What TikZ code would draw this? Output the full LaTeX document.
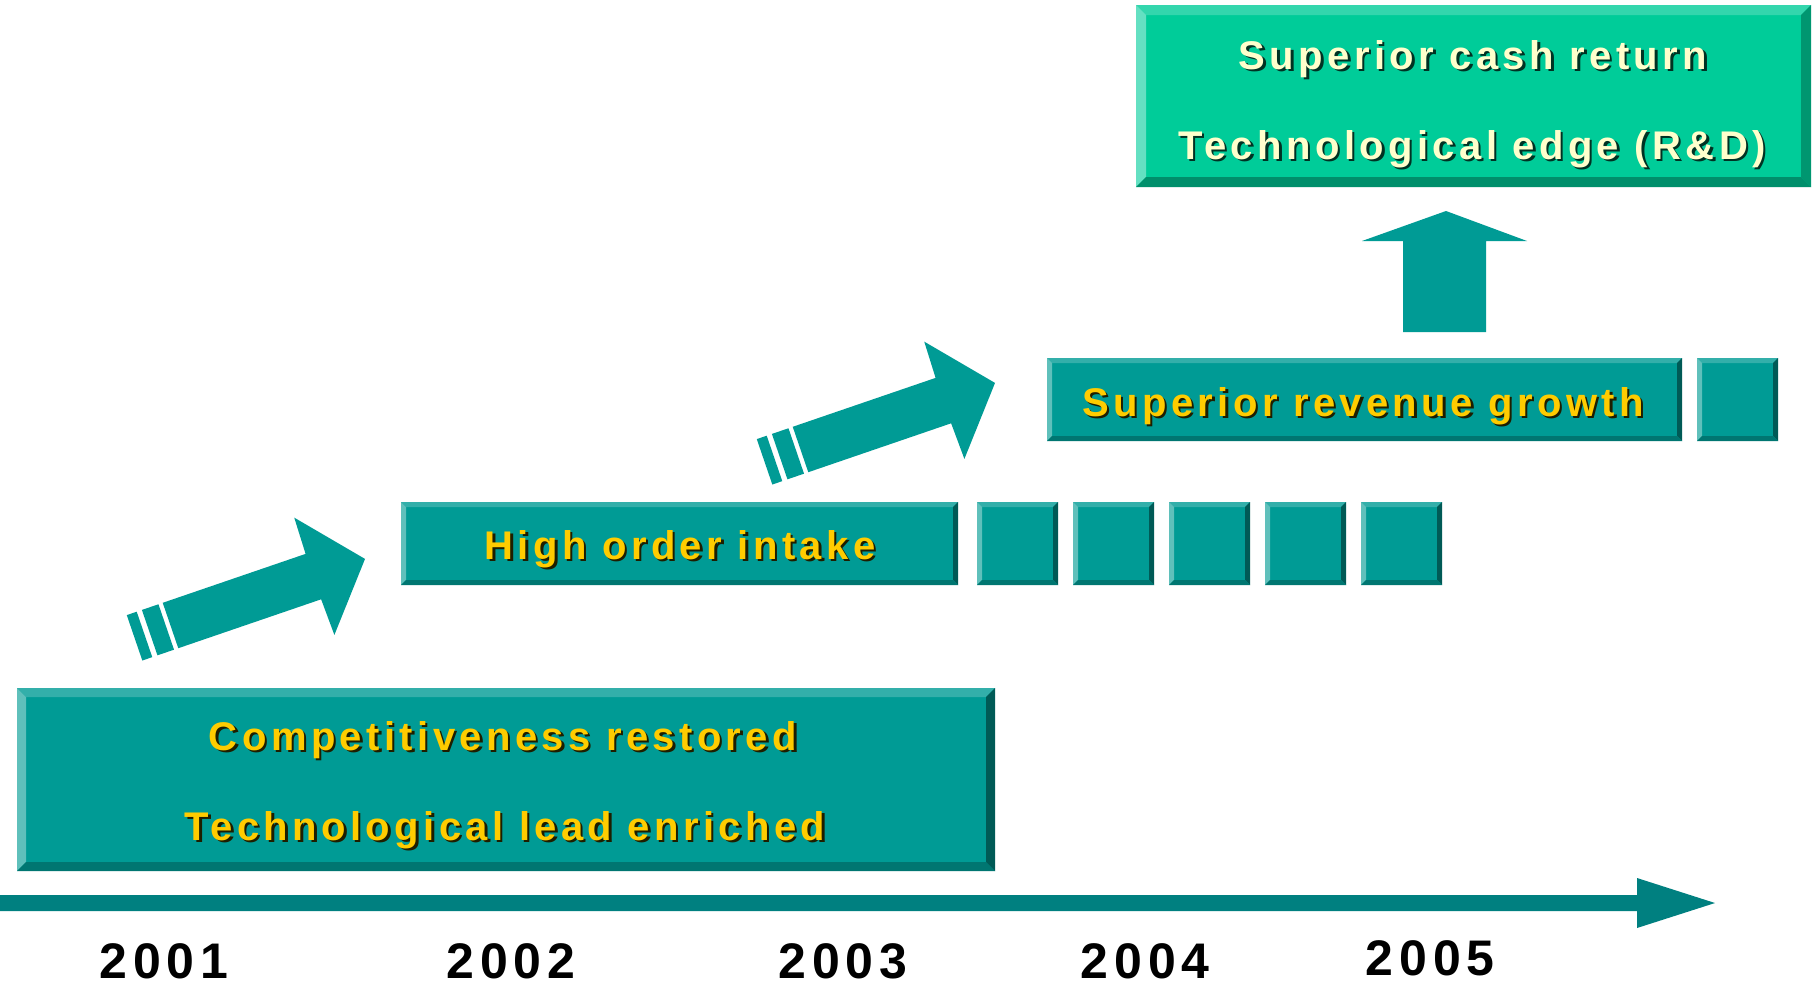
\documentclass[tikz,border=0pt]{standalone}
\usepackage{fontspec}
\setmainfont{Liberation Sans}
\newfontfamily\boxfont{Liberation Sans}[LetterSpace=11]
\newfontfamily\yearfont{Liberation Sans}[LetterSpace=12]
\usetikzlibrary{calc,fit}

\definecolor{tealface}{RGB}{0,155,149}
\definecolor{tealtop}{RGB}{51,175,170}
\definecolor{tealleft}{RGB}{95,192,187}
\definecolor{tealright}{RGB}{0,90,86}
\definecolor{tealbottom}{RGB}{0,118,113}
\definecolor{mintface}{RGB}{0,204,153}
\definecolor{minttop}{RGB}{51,214,173}
\definecolor{mintleft}{RGB}{100,224,194}
\definecolor{mintright}{RGB}{0,150,112}
\definecolor{mintbottom}{RGB}{0,143,107}
\definecolor{axisteal}{RGB}{0,128,128}
\definecolor{lblyellow}{RGB}{255,204,0}
\definecolor{lblcream}{RGB}{255,255,204}
\definecolor{lblshadow}{RGB}{30,30,0}
\definecolor{creamshadow}{RGB}{0,50,35}

% bevelled box: name, x1, y1, x2, y2, bevel, colour prefix
\newcommand\bevbox[7]{%
  \coordinate (#1-a) at (#2,#3);
  \coordinate (#1-b) at (#4,#3);
  \coordinate (#1-c) at (#4,#5);
  \coordinate (#1-d) at (#2,#5);
  \node[fit=(#1-a)(#1-c), inner sep=0pt, fill=#7face] (#1) {};
  \fill[#7top] (#1-a) -- (#1-b) -- ($(#1-b)+(-#6,#6)$) -- ($(#1-a)+(#6,#6)$) -- cycle;
  \fill[#7left] (#1-a) -- ($(#1-a)+(#6,#6)$) -- ($(#1-d)+(#6,-#6)$) -- (#1-d) -- cycle;
  \fill[#7right] (#1-b) -- (#1-c) -- ($(#1-c)+(-#6,-#6)$) -- ($(#1-b)+(-#6,#6)$) -- cycle;
  \fill[#7bottom] (#1-d) -- (#1-c) -- ($(#1-c)+(-#6,-#6)$) -- ($(#1-d)+(#6,-#6)$) -- cycle;
}

% text with a drop shadow: name, x, baseline y, colour, shadow colour, text
\newcommand\shadowtext[6]{%
  \node[boxtxt, text=#5] (#1-shade) at (#2+2.5,#3+2.5) {#6};
  \node[boxtxt, text=#4] (#1) at (#2,#3) {#6};
}

% slanted block arrow with two bands behind its tail
\newcommand\riser[3]{% name, x, y of tail centre
  \begin{scope}[shift={(#2,#3)}, rotate=18.9]
    \fill[tealface] (0,-24) -- (151,-24) -- (152,-62) -- (205.6,0)
      -- (152,62) -- (151,24) -- (0,24) -- cycle;
    \fill[tealface] (-22,-24) rectangle (-4.5,24);
    \fill[tealface] (-38,-24) rectangle (-27.5,24);
    \coordinate (#1) at (0,0);
  \end{scope}
}

\tikzset{
  boxtxt/.style={font=\boxfont\bfseries\fontsize{40}{44}\selectfont, anchor=base, inner sep=0pt},
  yeartxt/.style={font=\yearfont\bfseries\fontsize{50}{54}\selectfont, anchor=base, inner sep=0pt, text=black}
}

\begin{document}
\begin{tikzpicture}[x=1pt,y=-1pt]
  \useasboundingbox (0,0) rectangle (1814,986);
  \fill[white] (0,0) rectangle (1814,986);

  % time axis
  \fill[axisteal] (0,895) -- (1637,895) -- (1637,878) -- (1715,903)
    -- (1637,928) -- (1637,911) -- (0,911) -- cycle;

  % years
  \node[yeartxt] (y2001) at (164,978) {2001};
  \node[yeartxt] (y2002) at (511,978) {2002};
  \node[yeartxt] (y2003) at (843,978) {2003};
  \node[yeartxt] (y2004) at (1145,978) {2004};
  \node[yeartxt] (y2005) at (1430,975) {2005};

  % stage 1
  \bevbox{comp}{17}{688}{995}{871}{9}{teal}
  \shadowtext{comp1}{503}{750}{lblyellow}{lblshadow}{Competitiveness restored}
  \shadowtext{comp2}{505}{840}{lblyellow}{lblshadow}{Technological lead enriched}

  \riser{rise1}{170.5}{625.5}

  % stage 2
  \bevbox{order}{401}{502}{958}{585}{5}{teal}
  \shadowtext{orderlbl}{680}{559}{lblyellow}{lblshadow}{High order intake}
  \bevbox{sqa}{977}{502}{1058}{585}{5}{teal}
  \bevbox{sqb}{1073}{502}{1154}{585}{5}{teal}
  \bevbox{sqc}{1169}{502}{1250}{585}{5}{teal}
  \bevbox{sqd}{1265}{502}{1346}{585}{5}{teal}
  \bevbox{sqe}{1361}{502}{1442}{585}{5}{teal}

  \riser{rise2}{800.5}{449.5}

  % stage 3
  \bevbox{growth}{1047}{358}{1682}{441}{5}{teal}
  \shadowtext{growthlbl}{1363}{416}{lblyellow}{lblshadow}{Superior revenue growth}
  \bevbox{sqf}{1697}{358}{1778}{441}{5}{teal}

  % upward arrow
  \fill[tealface] (1403,332) -- (1403,241) -- (1362,241) -- (1446,211)
    -- (1527,241) -- (1486,241) -- (1486,332) -- cycle;

  % stage 4
  \bevbox{cash}{1136}{5}{1811}{187}{10}{mint}
  \shadowtext{cash1}{1473}{69}{lblcream}{creamshadow}{Superior cash return}
  \shadowtext{cash2}{1472}{159}{lblcream}{creamshadow}{Technological edge (R\&D)}
\end{tikzpicture}
\end{document}
